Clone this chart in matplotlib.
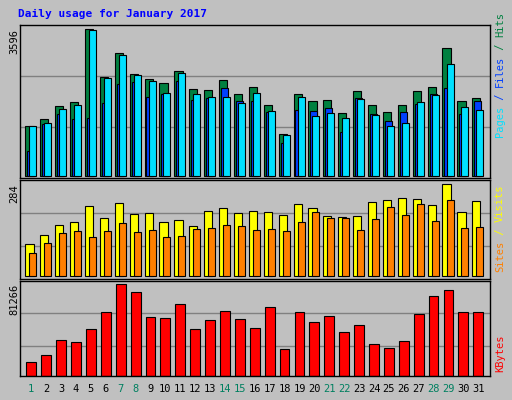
import matplotlib
matplotlib.use("Agg")
import matplotlib.pyplot as plt
import numpy as np

days = list(range(1, 32))
weekend = [1, 7, 8, 14, 15, 21, 22, 28, 29]
hits_y = [318,297,258,246,28,171,99,162,177,189,153,207,210,180,222,201,255,342,222,243,240,279,213,255,276,255,213,201,84,243,234]
files_y = [393,312,282,297,294,249,192,186,231,222,183,240,234,204,243,243,276,369,270,273,264,336,234,282,303,276,252,222,204,282,243]
pages_y = [318,309,267,255,30,174,105,165,183,219,159,222,231,231,249,219,273,345,231,288,279,294,237,285,318,309,246,225,132,261,270]
visits_y = [207,180,150,141,93,129,84,117,114,141,135,153,108,99,114,108,111,120,87,99,123,126,123,81,75,69,72,90,28,111,78]
sites_y = [234,204,174,168,186,168,144,171,165,186,183,162,159,150,153,165,162,168,141,111,129,129,165,132,96,120,87,138,75,159,156]
kb_y = [561,540,495,501,462,411,328,351,426,429,387,462,435,408,432,459,396,522,411,441,423,471,450,507,519,498,417,363,345,411,411]

hits = [round((468 - v) * 3596 / 440) for v in hits_y]
files = [round((468 - v) * 3596 / 440) for v in files_y]
pages = [round((468 - v) * 3596 / 440) for v in pages_y]
visits = [round((304 - v) * 284 / 276) for v in visits_y]
sites = [round((304 - v) * 284 / 276) for v in sites_y]
kbytes = [round((602 - v) * 81266 / 274) for v in kb_y]

W, H = 512, 400
fig = plt.figure(figsize=(5.12, 4.0), dpi=100)
fig.patch.set_facecolor("#C0C0C0")
mono = "DejaVu Sans Mono"

def ax_at(x0, y0, x1, y1):
    a = fig.add_axes([x0 / W, 1 - y1 / H, (x1 - x0) / W, (y1 - y0) / H])
    a.set_facecolor("#C0C0C0")
    a.set_xticks([]); a.set_yticks([])
    for s in a.spines.values():
        s.set_color("black"); s.set_linewidth(1)
    a.set_xlim(-0.36, 31.19)
    return a

x = np.arange(31)
# top panel
a1 = ax_at(20, 25, 490, 178)
a1.set_ylim(-49, 3701)
for g in (1200, 2444):
    a1.axhline(g, color="#808080", lw=1, zorder=0)
a1.bar(x, hits, width=0.55, align="edge", color="#008040", edgecolor="black", lw=0.8)
a1.bar(x + 0.13, files, width=0.47, align="edge", color="#0040FF", edgecolor="black", lw=0.8)
a1.bar(x + 0.27, pages, width=0.47, align="edge", color="#00E0FF", edgecolor="black", lw=0.8)

a2 = ax_at(20, 180, 490, 279)
a2.set_ylim(-8.3, 297)
for g in (93.5, 195):
    a2.axhline(g, color="#808080", lw=1, zorder=0)
a2.bar(x, visits, width=0.55, align="edge", color="#FFFF00", edgecolor="black", lw=0.8)
a2.bar(x + 0.27, sites, width=0.47, align="edge", color="#FF8000", edgecolor="black", lw=0.8)

a3 = ax_at(20, 281, 490, 376)
a3.set_ylim(-270, 84200)
for g in (26400, 55700):
    a3.axhline(g, color="#808080", lw=1, zorder=0)
a3.bar(x + 0.07, kbytes, width=0.66, align="edge", color="#FF0000", edgecolor="black", lw=0.8)

def ftext(px, py, s, **kw):
    fig.text(px / W, 1 - py / H, s, family=mono, **kw)

ftext(18, 14, "Daily usage for January 2017", color="#0000FF", fontsize=8, fontweight="bold", va="center")
ftext(14, 29, "3596", rotation=90, fontsize=7.5, va="top", ha="center")
ftext(14, 184, "284", rotation=90, fontsize=7.5, va="top", ha="center")
ftext(14, 284, "81266", rotation=90, fontsize=7.5, va="top", ha="center")

for d in days:
    px = 20 + (d - 1 + 0.36 + 0.4) * 14.9
    ftext(px, 389, str(d), fontsize=7.5, ha="center", va="center",
          color="#008060" if d in weekend else "black")

cw = 6.25
def vstack(bottom, parts):
    y = bottom
    for s, c in parts:
        ftext(500, y, s, rotation=90, fontsize=7.5, color=c, ha="center", va="bottom")
        y -= len(s) * cw

vstack(137, [("Pages", "#00E0FF"), (" / ", "#0040FF"), ("Files", "#0040FF"), (" / ", "#008040"), ("Hits", "#008040")])
vstack(272, [("Sites", "#FF8000"), (" / ", "#FFFF00"), ("Visits", "#FFFF00")])
vstack(372, [("KBytes", "#FF0000")])

fig.savefig("out.png", dpi=100, facecolor=fig.get_facecolor())
